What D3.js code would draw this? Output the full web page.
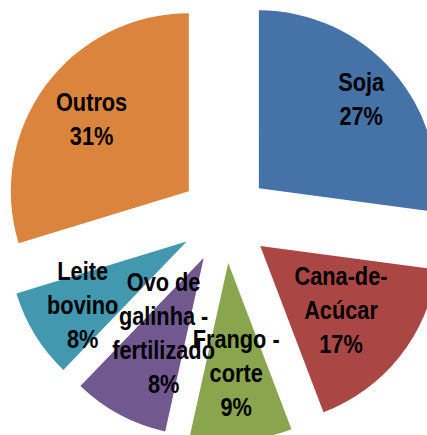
<!DOCTYPE html>
<html>
<head>
<meta charset="utf-8">
<script src="https://cdn.jsdelivr.net/npm/d3@7"></script>
<style>
  html, body { margin: 0; padding: 0; background: #fff; overflow: hidden; }
  .lbl { font-family: "Liberation Sans", Arial, sans-serif; font-weight: bold; font-size: 25px; fill: #000; }
</style>
</head>
<body>
<script>
// fatias (tamanho desenhado) e rótulos mostrados
const categories = ['Soja', 'Cana-de-Acúcar', 'Frango - corte', 'Ovo de galinha - fertilizado', 'Leite bovino', 'Outros'];
const labelLines = [['Soja'], ['Cana-de-', 'Acúcar'], ['Frango -', 'corte'], ['Ovo de', 'galinha -', 'fertilizado'], ['Leite', 'bovino'], ['Outros']];
const shares = [27.1, 17.1, 9.25, 8.7, 8.1, 29.7];
const percentLabels = ['27%', '17%', '9%', '8%', '8%', '31%'];
const colors = ['#4572A7', '#AA4643', '#89A54E', '#71588F', '#4198AF', '#DB843D'];

const width = 427;
const height = 435;
const cx = 225;
const cy = 218;
const radius = 178;
const explode = 45; // distância de cada fatia ao centro
const lineH = 34;
const capH = 18;
const squeeze = 0.87; // fonte estreita (tipo Calibri) simulada
// raio do rótulo a partir do vértice de cada fatia (posição tipo "melhor ajuste" do Excel)
const labelR = [136, 103, 110, 85, 122, 121];

const svg = d3.select('body').append('svg').attr('width', width).attr('height', height);

const pie = d3.pie().sort(null).value(d => d.v);
const arcs = pie(categories.map((c, i) => ({ c, v: shares[i], i })));

const arc = d3.arc().innerRadius(0).outerRadius(radius);
const offset = d => d3.arc().innerRadius(explode).outerRadius(explode).centroid(d);

const g = svg.append('g').attr('transform', `translate(${cx}, ${cy})`);

g.append('g')
  .selectAll('path')
  .data(arcs)
  .enter()
  .append('path')
  .attr('transform', d => `translate(${offset(d)})`)
  .attr('d', arc)
  .attr('fill', d => colors[d.data.i]);

// rótulos por cima de todas as fatias
const labels = g.append('g');
arcs.forEach(d => {
  const i = d.data.i;
  const lines = labelLines[i].concat([percentLabels[i]]);
  const o = offset(d);
  const p = d3.arc().innerRadius(labelR[i]).outerRadius(labelR[i]).centroid(d);
  const x = o[0] + p[0];
  const y0 = o[1] + p[1] - ((lines.length - 1) * lineH - capH) / 2;
  const t = labels
    .append('text')
    .attr('class', 'lbl')
    .attr('text-anchor', 'middle')
    .attr('transform', `translate(${x}, ${y0}) scale(${squeeze}, 1)`);
  lines.forEach((s, k) => {
    t.append('tspan').attr('x', 0).attr('y', k * lineH).text(s);
  });
});
</script>
</body>
</html>
